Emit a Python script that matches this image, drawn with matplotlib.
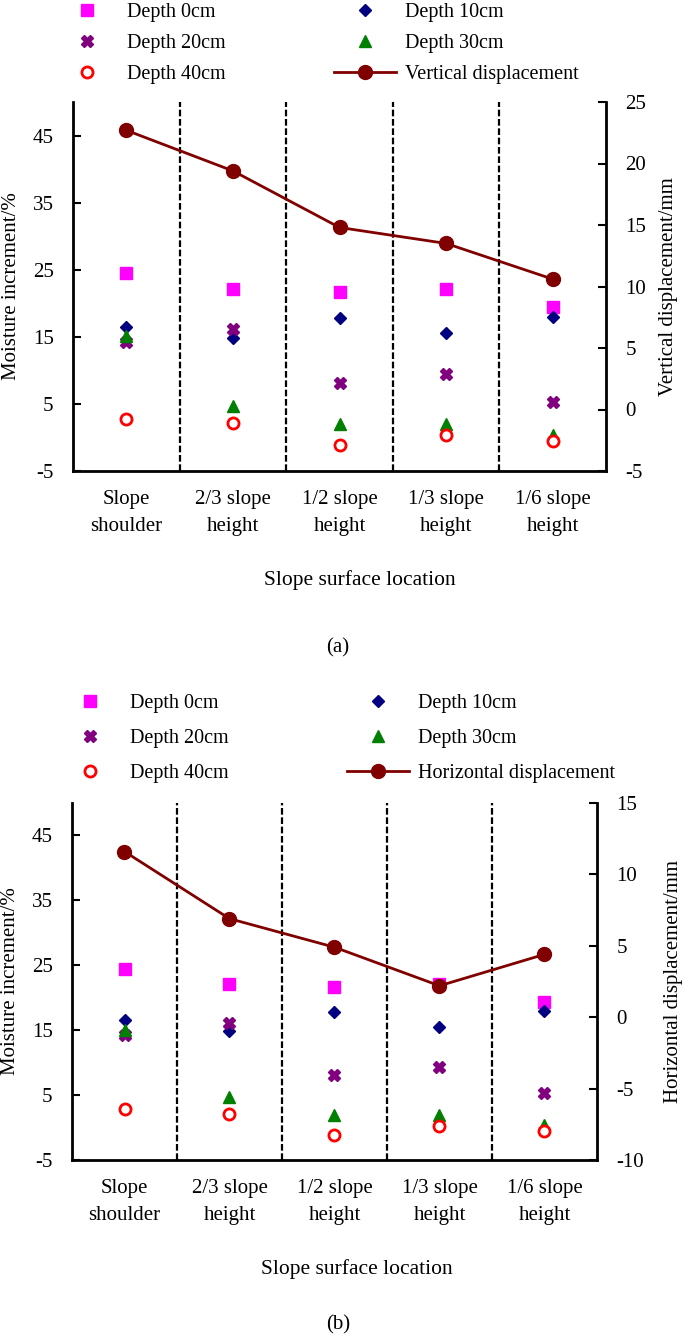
import numpy as np
import matplotlib.pyplot as plt

plt.rcParams['font.family'] = ['Liberation Serif', 'DejaVu Serif']
plt.rcParams['font.size'] = 15
plt.rcParams['axes.unicode_minus'] = False

# datos
locations = ['Slope\nshoulder', '2/3 slope\nheight', '1/2 slope\nheight',
             '1/3 slope\nheight', '1/6 slope\nheight']

depth_0 = [24.5, 22.1, 21.7, 22.1, 19.4]
depth_10 = [16.5, 14.8, 17.8, 15.5, 17.9]
depth_20 = [14.3, 16.1, 8.1, 9.4, 5.3]
depth_30 = [15.1, 4.7, 2.0, 2.0, 0.4]
depth_40 = [2.8, 2.1, -1.1, 0.3, -0.5]

vertical_disp = [22.7, 19.4, 14.8, 13.5, 10.6]
horizontal_disp = [11.6, 6.9, 4.9, 2.2, 4.4]

moisture_ticks = [-5, 5, 15, 25, 35, 45]
vertical_ticks = [-5, 0, 5, 10, 15, 20, 25]
horizontal_ticks = [-10, -5, 0, 5, 10, 15]

W, H = 685, 1339
fig = plt.figure(figsize=(W / 100, H / 100), dpi=100)


def draw_panel(left, right, top, bottom, disp, disp_name, disp_ticks, right_pad,
               leg_left, leg_top, leg_spacing, col_spacing, xlabel_x, tag, tag_y):
    ax = fig.add_axes([left / W, 1 - bottom / H, (right - left) / W, (bottom - top) / H])
    x = np.arange(1, len(locations) + 1)

    h0, = ax.plot(x, depth_0, 's', color='#FF00FF', ms=8, ls='none', label='Depth 0cm')
    h10, = ax.plot(x, depth_10, 'D', color='#000080', ms=6.5, ls='none', label='Depth 10cm')
    h20, = ax.plot(x, depth_20, 'X', color='#800080', ms=8, ls='none', label='Depth 20cm')
    h30, = ax.plot(x, depth_30, '^', color='#008000', ms=8.5, ls='none', label='Depth 30cm')
    h40, = ax.plot(x, depth_40, 'o', mfc='white', mec='#FF0000', mew=2, ms=8,
                   ls='none', label='Depth 40cm')

    for b in np.arange(1.5, len(locations), 1.0):
        ax.axvline(b, color='black', lw=1.6, ls=(0, (3, 1.2)))

    ax.set_xlim(0.5, len(locations) + 0.5)
    ax.set_ylim(-5, 50)
    ax.set_yticks(moisture_ticks)
    ax.set_xticks(x)
    ax.set_xticklabels(locations)
    for lbl in ax.get_xticklabels():
        lbl.set_linespacing(1.55)
    ax.tick_params(axis='x', length=0, pad=14)
    ax.tick_params(axis='y', direction='in', length=6, width=1.5, pad=14)
    ax.set_ylabel('Moisture increment/%', labelpad=8)
    ax.spines['top'].set_visible(False)
    ax.spines['right'].set_visible(False)
    for s in ['left', 'bottom']:
        ax.spines[s].set_linewidth(2)

    fig.text(xlabel_x / W, 1 - (bottom + 109) / H, 'Slope surface location',
             ha='center', va='center', fontsize=15.5)

    ax2 = ax.twinx()
    hd, = ax2.plot(x, disp, '-o', color='#800000', lw=2, ms=10, label=disp_name)
    ax2.set_ylim(disp_ticks[0], disp_ticks[-1])
    ax2.set_yticks(disp_ticks)
    ax2.tick_params(axis='y', direction='in', length=6, width=1.5, pad=14)
    ax2.set_ylabel(disp_name + '/mm', labelpad=right_pad)
    ax2.spines['top'].set_visible(False)
    ax2.spines['left'].set_visible(False)
    ax2.spines['bottom'].set_visible(False)
    ax2.spines['right'].set_linewidth(2)

    handles = [h0, h20, h40, h10, h30, hd]
    fig.legend(handles=handles, labels=[h.get_label() for h in handles],
               ncol=2, frameon=False, loc='upper left',
               bbox_to_anchor=(leg_left / W, 1 - leg_top / H),
               borderpad=0, borderaxespad=0, handlelength=3.1, handletextpad=0.45,
               labelspacing=leg_spacing, columnspacing=col_spacing, fontsize=14.5)

    fig.text(338 / W, 1 - tag_y / H, tag, ha='center', va='center', fontsize=15)


draw_panel(73, 606, 102, 471, vertical_disp, 'Vertical displacement', vertical_ticks, 9,
           56, 3, 0.58, 5.35, 360, '(a)', 648)
draw_panel(72, 597, 803, 1160, horizontal_disp, 'Horizontal displacement', horizontal_ticks, 14,
           59, 694, 0.78, 5.85, 357, '(b)', 1325)

fig.savefig('out.png', dpi=100)
